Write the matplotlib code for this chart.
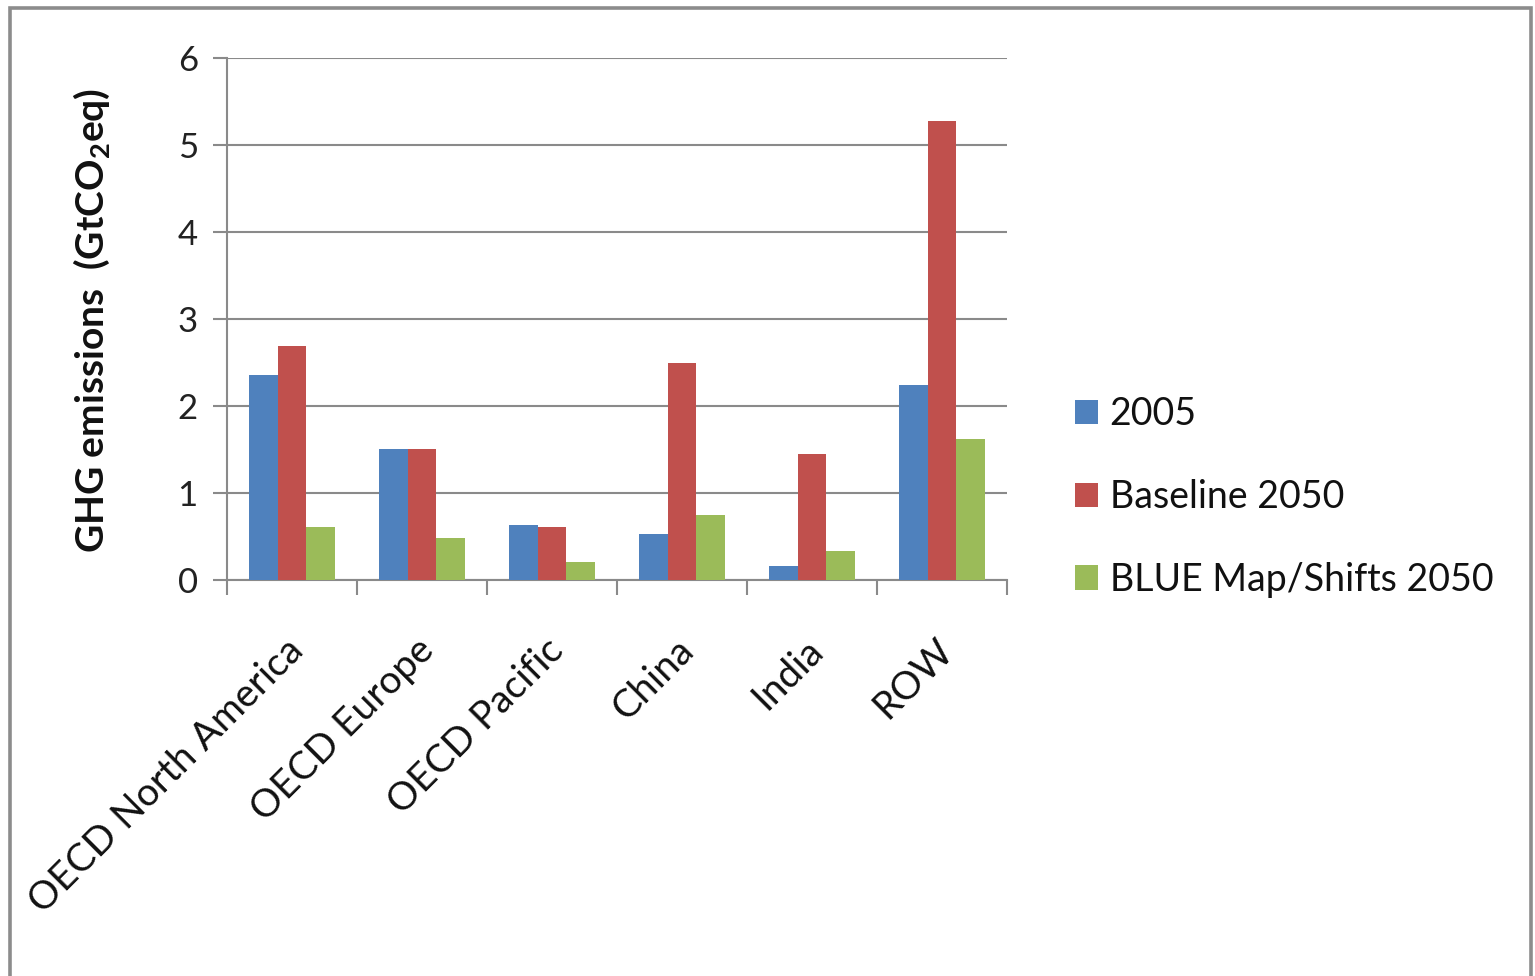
import matplotlib
matplotlib.use("Agg")
import matplotlib.pyplot as plt
import numpy as np
from matplotlib import transforms
from matplotlib.patches import Rectangle, Patch

plt.rcParams['font.family'] = ['Lato', 'DejaVu Sans']
plt.rcParams['mathtext.fontset'] = 'custom'
plt.rcParams['mathtext.rm'] = 'Lato'
plt.rcParams['mathtext.bf'] = 'Lato:bold'

regions = ["OECD North America", "OECD Europe", "OECD Pacific", "China", "India", "ROW"]
series_names = ["2005", "Baseline 2050", "BLUE Map/Shifts 2050"]
emis_2005 = [2.36, 1.51, 0.635, 0.53, 0.16, 2.24]
emis_baseline_2050 = [2.69, 1.51, 0.61, 2.49, 1.45, 5.28]
emis_blue_2050 = [0.61, 0.485, 0.21, 0.75, 0.33, 1.62]
y_ticks = [0, 1, 2, 3, 4, 5, 6]

colors = ["#4F81BD", "#C0504D", "#9BBB59"]
grid_col = "#8a8a8a"

W, H, DPI = 1535, 976, 100
fig = plt.figure(figsize=(W / DPI, H / DPI), dpi=DPI)
fig.patch.set_facecolor("white")

# outer chart-area frame
fig.patches.append(Rectangle((10 / W, -0.05), 1521 / W, 1.05 - 8 / H,
                             transform=fig.transFigure, fill=False,
                             edgecolor="#8c8c8c", linewidth=2.6, zorder=0))

ax = fig.add_axes([227 / W, 1 - 580 / H, 780 / W, 522 / H])

x = np.arange(len(regions))
bw = 0.22
for k, (vals, name) in enumerate(zip([emis_2005, emis_baseline_2050, emis_blue_2050], series_names)):
    ax.bar(x + (k - 1) * bw, vals, width=bw, color=colors[k], label=name, zorder=3,
           edgecolor="none")

ax.set_xlim(-0.5, len(regions) - 0.5)
ax.set_ylim(0, 6)
ax.set_yticks(y_ticks)
ax.yaxis.grid(True, color=grid_col, linewidth=1.5, zorder=0)
ax.set_axisbelow(True)

for s in ["top", "right"]:
    ax.spines[s].set_visible(False)
for s in ["left", "bottom"]:
    ax.spines[s].set_color(grid_col)
    ax.spines[s].set_linewidth(1.5)

ax.tick_params(axis="y", direction="out", length=10, width=1.5, color=grid_col,
               labelsize=25, pad=11, labelcolor="#222222")

# category boundaries carry the tick marks; names are drawn separately
ax.set_xticks(np.arange(len(regions) + 1) - 0.5)
ax.set_xticklabels([])
ax.tick_params(axis="x", direction="out", length=11, width=1.5, color=grid_col)

for i, name in enumerate(regions):
    tr = transforms.offset_copy(ax.transData, fig=fig, x=-7, y=-52, units="dots")
    ax.text(i, 0, name, transform=tr, rotation=45, ha="right", va="top",
            rotation_mode="anchor", fontsize=28, color="#111111")

ax.set_ylabel(r"GHG emissions  (GtCO$_\mathbf{2}$eq)", fontsize=28, fontweight="bold",
              color="#111111")
ax.yaxis.set_label_coords(-0.147, 0.497)

handles = [Patch(facecolor=c, edgecolor="none") for c in colors]
fig.legend(handles, series_names, loc="upper left",
           bbox_to_anchor=(1060 / W, 1 - 381 / H), frameon=False, fontsize=27,
           handlelength=0.62, handleheight=0.62, handletextpad=0.3,
           labelspacing=1.25, borderaxespad=0, labelcolor="#111111")

fig.savefig("out.png", dpi=DPI, facecolor="white")
